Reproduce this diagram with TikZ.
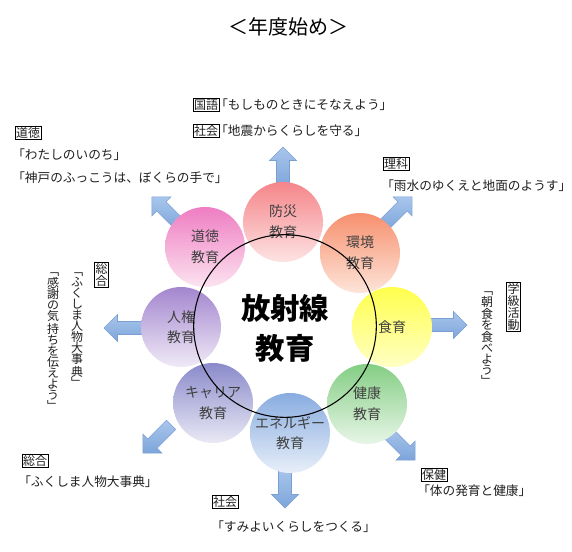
\documentclass[tikz,border=0pt]{standalone}
\usepackage{fontspec}
\setmainfont{Noto Sans CJK JP}
\definecolor{arrowfill}{HTML}{8EB4E3}
\definecolor{arrowtop}{HTML}{A9C6EC}
\definecolor{arrowbot}{HTML}{7DA5DA}
\definecolor{arrowedge}{HTML}{7A9FD2}
\definecolor{cBosaiT}{HTML}{F5858A}\definecolor{cBosaiB}{HTML}{FDE3E3}
\definecolor{cDotokuT}{HTML}{EE7DC2}\definecolor{cDotokuB}{HTML}{FCE3F0}
\definecolor{cKankyoT}{HTML}{F7906E}\definecolor{cKankyoB}{HTML}{FDE5D9}
\definecolor{cShokuT}{HTML}{FFFF4D}\definecolor{cShokuB}{HTML}{FFFFC4}
\definecolor{cKenkoT}{HTML}{84CE84}\definecolor{cKenkoB}{HTML}{E8F6E8}
\definecolor{cEneT}{HTML}{88ACE0}\definecolor{cEneB}{HTML}{E8EFF9}
\definecolor{cCareerT}{HTML}{8A8ACB}\definecolor{cCareerB}{HTML}{E9E9F5}
\definecolor{cJinkenT}{HTML}{A386CF}\definecolor{cJinkenB}{HTML}{F0EAF7}
\definecolor{circtext}{HTML}{404040}
\definecolor{lbltext}{HTML}{202020}
\begin{document}
\begin{tikzpicture}[x=0.75pt,y=-0.75pt,
  circ/.style={circle, minimum size=60pt, inner sep=0pt, align=center, text=circtext,
    font=\fontsize{10.5}{15.5}\selectfont},
  barrow/.pic={\shadedraw[draw=arrowedge, line width=0.4pt, top color=arrowtop, bottom color=arrowbot]
    (-20,-6.5) -- (6.5,-6.5) -- (6.5,-13.5) -- (20,0) -- (6.5,13.5) -- (6.5,6.5) -- (-20,6.5) -- cycle;},
  subj/.style={draw=black, line width=0.6pt, inner sep=0.6pt, text=lbltext, font=\fontsize{9}{9}\selectfont},
  lbl/.style={inner sep=0pt, anchor=west, text=lbltext, font=\fontsize{9.5}{11}\selectfont},
  vlbl/.style={inner sep=0pt, anchor=north, align=center, text=lbltext, font=\fontsize{9}{8.3}\selectfont},
  vsubj/.style={draw=black, line width=0.6pt, inner sep=0.8pt, anchor=north, align=center, text=lbltext,
    font=\fontsize{9}{9}\selectfont}
]
\useasboundingbox[fill=white] (0,0) rectangle (572,551);

% title
\node[inner sep=0pt, font=\fontsize{15}{15}\selectfont] (title) at (288,27) {＜年度始め＞};

% arrows (behind circles)
\pic[rotate=90]  (aUp)   at (283,167) {barrow};
\pic[rotate=135] (aUL)   at (166,211) {barrow};
\pic[rotate=45]  (aUR)   at (398,211) {barrow};
\pic[rotate=0]   (aR)    at (447,325) {barrow};
\pic[rotate=180] (aL)    at (124,328) {barrow};
\pic[rotate=225] (aLL)   at (157,439) {barrow};
\pic[rotate=270] (aD)    at (285,488) {barrow};
\pic[rotate=315] (aLR)   at (401,446) {barrow};

% circles
\node[circ, top color=cBosaiT, bottom color=cBosaiB] (bosai) at (283,222) {防災\\教育};
\node[circ, top color=cDotokuT, bottom color=cDotokuB] (dotoku) at (205,247) {道徳\\教育};
\node[circ, top color=cKankyoT, bottom color=cKankyoB] (kankyo) at (360,253) {環境\\教育};
\node[circ, top color=cShokuT, bottom color=cShokuB] (shoku) at (392,327) {食育};
\node[circ, top color=cKenkoT, bottom color=cKenkoB] (kenko) at (367,404) {健康\\教育};
\node[circ, top color=cEneT, bottom color=cEneB] (ene) at (290,433) {エネルギー\\教育};
\node[circ, top color=cCareerT, bottom color=cCareerB] (career) at (213,403) {キャリア\\教育};
\node[circ, top color=cJinkenT, bottom color=cJinkenB] (jinken) at (181,327) {人権\\教育};

% core circle
\node[circle, draw=black, line width=0.8pt, minimum size=137pt, inner sep=0pt] (core) at (285,326) {};
\node[inner sep=0pt, align=center, font=\fontsize{22}{30}\selectfont\bfseries] (coretext) at (285,328) {放射線\\教育};

% top labels
\node[subj, anchor=west] (kokugo) at (193,105) {国語};
\node[lbl] (kokugoT) at (215,105) {「もしものときにそなえよう」};
\node[subj, anchor=west] (shakai1) at (193,131) {社会};
\node[lbl] (shakai1T) at (215,131) {「地震からくらしを守る」};

% upper left
\node[subj, anchor=west] (dotokuS) at (15,133) {道徳};
\node[lbl] (dotokuT1) at (12,155) {「わたしのいのち」};
\node[lbl] (dotokuT2) at (12,178) {「神戸のふっこうは、ぼくらの手で」};

% upper right
\node[subj, anchor=west] (rika) at (383,164) {理科};
\node[lbl] (rikaT) at (381,186) {「雨水のゆくえと地面のようす」};

% right vertical
\node[vsubj] (gakkyu) at (513.5,282) {学\\級\\活\\動};
\node[vlbl] (gakkyuT) at (487,291) {﹁\\朝\\食\\を\\食\\べ\\よ\\う\\﹂};

% left vertical
\node[vsubj] (sogo1) at (101.5,262) {総\\合};
\node[vlbl] (sogo1T1) at (77,272) {﹁\\ふ\\く\\し\\ま\\人\\物\\大\\事\\典\\﹂};
\node[vlbl] (sogo1T2) at (53,272) {﹁\\感\\謝\\の\\気\\持\\ち\\を\\伝\\え\\よ\\う\\﹂};

% lower left
\node[subj, anchor=west] (sogo2) at (22,461) {総合};
\node[lbl] (sogo2T) at (18,482) {「ふくしま人物大事典」};

% bottom
\node[subj, anchor=west] (shakai2) at (212,502) {社会};
\node[lbl] (shakai2T) at (211,527) {「すみよいくらしをつくる」};

% lower right
\node[subj, anchor=west] (hoken) at (421,475) {保健};
\node[lbl] (hokenT) at (417,491) {「体の発育と健康」};
\end{tikzpicture}
\end{document}
